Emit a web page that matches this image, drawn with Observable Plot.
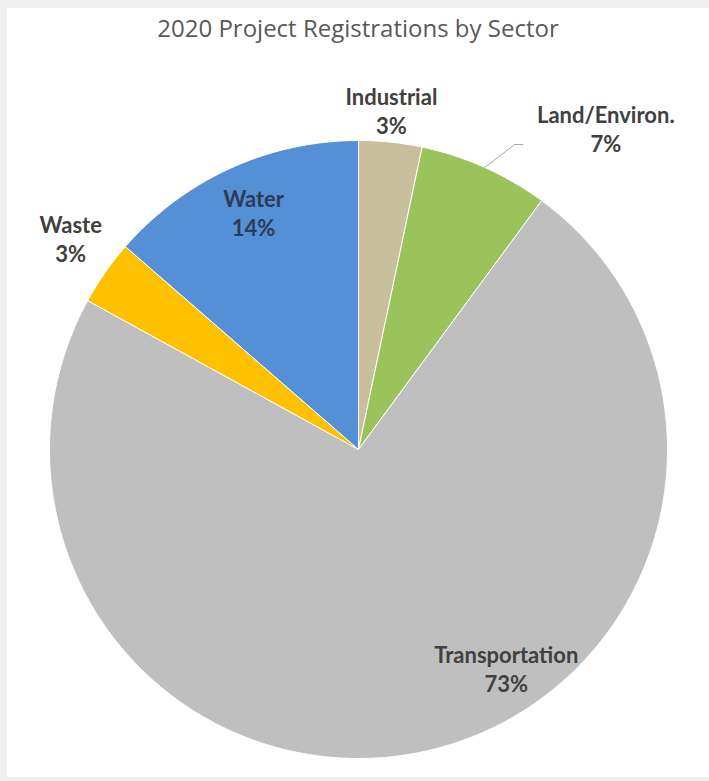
<!DOCTYPE html>
<html><head><meta charset="utf-8">
<script src="https://cdn.jsdelivr.net/npm/d3@7"></script>
<script src="https://cdn.jsdelivr.net/npm/@observablehq/plot@0.6"></script>
<style>
body{margin:0;background:#efefef;width:709px;height:781px;overflow:hidden;position:relative;}
#frame{position:absolute;left:7px;top:8px;width:702px;height:769px;background:#fff;}
#title{position:absolute;left:0;top:8px;width:702px;text-align:center;font-family:"Open Sans",sans-serif;font-size:24px;color:#595959;line-height:24px;}
#chart{position:absolute;left:0;top:50px;}
</style></head><body>
<div id="frame"><div id="title">2020 Project Registrations by Sector</div><div id="chart"></div></div>
<script>
// Data (clockwise from 12 o'clock)
const sectors = ["Industrial", "Land/Environ.", "Transportation", "Waste", "Water"];
const shares = [3.3, 6.8, 72.9, 3.4, 13.6];
const colors = ["#c8bf9c", "#9bc35b", "#bfbfbf", "#ffc000", "#5590d6"];

const table = sectors.map((s, i) => ({sector: s, value: shares[i]}));
const total = d3.sum(shares);
const arcs = d3.pie().sort(null).value(d => d.value).startAngle(0).endAngle(2 * Math.PI)(table);

// slice outlines in unit-circle data space
const pts = [];
for (const a of arcs) {
  const s = a.data.sector;
  pts.push({sector: s, x: 0, y: 0});
  const n = Math.max(2, Math.ceil((a.endAngle - a.startAngle) / (Math.PI / 360)));
  for (let k = 0; k <= n; k++) {
    const t = a.startAngle + (a.endAngle - a.startAngle) * k / n;
    pts.push({sector: s, x: Math.sin(t), y: Math.cos(t)});
  }
  pts.push({sector: s, x: 0, y: 0});
}

// label placement: angle offset (deg) from slice middle, radius as fraction of pie radius
const labelPolar = {
  "Industrial": [-0.4, 1.102],
  "Land/Environ.": [13.5, 1.311],
  "Transportation": [-21.6, 0.855],
  "Waste": [1.4, 1.156],
  "Water": [0.65, 0.840]
};
const labels = arcs.map(a => {
  const s = a.data.sector;
  const [off, r] = labelPolar[s];
  const t = (a.startAngle + a.endAngle) / 2 + off * Math.PI / 180;
  return {sector: s, x: r * Math.sin(t), y: r * Math.cos(t), text: `${s}\n${Math.round(a.data.value / total * 100)}%`};
});

// leader line for Land/Environ.
const land = arcs[1];
const lm = (land.startAngle + land.endAngle) / 2;
const bendA = lm + 3 * Math.PI / 180, bendR = 1.109;
const leader = [
  {x: Math.sin(lm), y: Math.cos(lm)},
  {x: bendR * Math.sin(bendA), y: bendR * Math.cos(bendA)},
  {x: bendR * Math.sin(bendA) + 0.026, y: bendR * Math.cos(bendA)}
];

const chart = Plot.plot({
  width: 702, height: 719,
  marginLeft: 42, marginRight: 42, marginTop: 82, marginBottom: 19,
  x: {domain: [-1, 1], axis: null},
  y: {domain: [-1, 1], axis: null},
  color: {domain: sectors, range: colors},
  style: {background: "transparent", overflow: "visible"},
  marks: [
    Plot.line(pts, {x: "x", y: "y", z: "sector", fill: "sector", stroke: "white", strokeWidth: 1, curve: "linear"}),
    Plot.line(leader, {x: "x", y: "y", stroke: "#a6a6a6", strokeWidth: 1}),
    Plot.text(labels, {x: "x", y: "y", text: "text", fontSize: 22, fontWeight: "bold", fill: d => d.sector === "Water" ? "#2e3b55" : "#404040", lineHeight: 1.32, fontFamily: "Lato"})
  ]
});
document.getElementById("chart").appendChild(chart);
</script>
</body></html>
